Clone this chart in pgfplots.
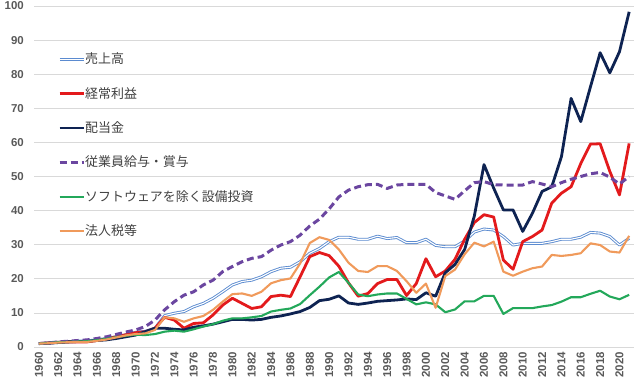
\documentclass[border=0pt]{standalone}
\usepackage{pgfplots}
\usepackage{pgfplotstable}
\pgfplotsset{compat=1.18}
\usepackage{fontspec}
\setmainfont{Liberation Sans}
\newfontfamily\jp{Noto Sans CJK JP}
\definecolor{salesc}{HTML}{5B8BD0}
\definecolor{redc}{HTML}{E31A1C}
\definecolor{navyc}{HTML}{0E2352}
\definecolor{purpc}{HTML}{6B46A0}
\definecolor{greenc}{HTML}{23A85A}
\definecolor{orangec}{HTML}{F09A5B}
\definecolor{gridc}{HTML}{D9D9D9}
\definecolor{tickc}{HTML}{595959}
\definecolor{legc}{HTML}{404040}
\pgfplotstableread{
year S R N P G O
1960 1.0 1.0 1.0 1.0 1.0 1.0
1961 1.2 1.2 1.1 1.2 1.2 1.1
1962 1.4 1.4 1.3 1.5 1.4 1.3
1963 1.5 1.5 1.5 1.7 1.5 1.4
1964 1.7 1.5 1.6 1.9 1.6 1.5
1965 1.8 1.5 1.7 2.1 1.7 1.5
1966 2.1 1.9 1.9 2.5 2.0 1.8
1967 2.5 2.4 2.1 3.0 2.4 2.2
1968 3.0 3.0 2.5 3.7 2.9 2.8
1969 3.6 3.6 3.0 4.4 3.3 3.4
1970 4.3 4.2 3.5 5.0 3.6 3.8
1971 4.6 4.5 4.5 6.0 3.5 4.0
1972 5.5 5.5 5.5 7.9 3.8 5.0
1973 9.2 8.7 5.5 10.9 4.5 8.7
1974 9.9 7.9 5.2 13.3 4.8 8.4
1975 10.4 5.5 5.0 15.2 4.5 7.4
1976 11.8 6.9 5.8 16.2 5.2 8.4
1977 12.8 7.1 6.2 18.2 6.0 9.1
1978 14.3 9.4 6.7 19.6 6.7 10.9
1979 16.2 12.3 7.4 22.1 7.7 13.3
1980 18.2 14.3 8.1 23.6 8.4 15.5
1981 19.2 12.8 8.1 25.0 8.4 15.7
1982 19.6 11.3 7.9 26.0 8.7 15.0
1983 20.6 11.8 8.1 26.5 9.1 16.2
1984 22.1 14.8 8.7 28.4 10.4 18.7
1985 23.1 15.2 9.1 29.9 10.9 19.6
1986 23.4 14.8 9.7 30.9 11.3 20.1
1987 25.0 20.6 10.4 32.8 12.6 24.5
1988 27.5 26.5 11.6 35.5 15.2 30.5
1989 28.9 27.7 13.6 37.5 17.7 32.2
1990 30.9 26.8 14.0 40.5 20.4 31.4
1991 32.2 23.7 15.0 44.0 22.0 28.6
1992 32.2 18.8 12.9 46.0 18.8 24.7
1993 31.6 14.9 12.5 47.0 15.4 22.3
1994 31.6 15.7 12.9 47.6 14.9 22.0
1995 32.5 18.6 13.4 47.7 15.4 23.7
1996 31.8 19.8 13.6 46.5 15.7 23.7
1997 32.1 19.8 13.8 47.5 15.7 22.3
1998 30.6 15.1 14.1 47.7 14.1 19.3
1999 30.6 18.6 13.9 47.7 12.5 15.9
2000 31.6 25.9 15.9 47.7 13.1 18.6
2001 29.8 20.6 14.9 45.3 12.5 11.5
2002 29.4 22.3 21.8 44.3 10.2 20.8
2003 29.4 25.7 24.2 43.3 11.0 22.7
2004 31.1 31.6 28.6 45.8 13.4 27.2
2005 33.7 36.5 38.4 48.2 13.4 30.6
2006 34.6 38.8 53.5 48.5 15.0 29.5
2007 34.3 38.1 46.6 47.6 15.0 30.9
2008 32.4 25.5 40.2 47.5 9.7 22.1
2009 29.9 22.8 40.2 47.5 11.4 20.9
2010 30.4 30.9 33.9 47.5 11.4 22.1
2011 30.4 32.4 39.2 48.5 11.4 23.1
2012 30.4 34.3 45.6 47.8 11.9 23.6
2013 30.9 42.2 47.0 47.0 12.3 27.0
2014 31.6 45.1 55.8 48.2 13.3 26.7
2015 31.6 47.0 72.9 49.2 14.6 27.0
2016 32.2 53.8 66.1 50.0 14.6 27.5
2017 33.6 59.5 76.3 50.8 15.6 30.4
2018 33.4 59.6 86.3 51.2 16.5 29.9
2019 32.4 51.5 80.4 49.8 14.8 28.0
2020 29.9 44.6 86.6 47.8 14.0 27.7
2021 31.9 59.7 98.3 50.0 15.3 32.6
}\data
\begin{document}
\begin{tikzpicture}
\begin{axis}[
  scale only axis, width=600bp, height=341bp,
  xmin=1959.5, xmax=2021.5, ymin=0, ymax=100,
  xtick={1960,1962,...,2020}, ytick={0,10,...,100},
  axis line style={draw=none},
  major tick length=0pt,
  ymajorgrids, grid style={draw=gridc, line width=0.8bp},
  /pgf/number format/assume math mode=true,
  tick label style={font=\fontsize{11.5}{12}\selectfont\bfseries, text=tickc},
  x tick label style={rotate=90, anchor=east, inner sep=5bp, /pgf/number format/1000 sep={}},
  y tick label style={anchor=east, inner sep=0pt, xshift=-10bp},
  legend style={draw=none, fill=none, at={(axis description cs:0.04,0.862)}, anchor=north west,
    inner sep=0pt, row sep=21.4bp, font=\jp\fontsize{13}{15}\selectfont, text=legc,
    nodes={inner sep=0pt, text height=10.5bp, text depth=2.5bp, anchor=base west},
    /tikz/every even column/.append style={column sep=3bp}},
  legend cell align=left,
  legend image code/.code={\draw[#1] (0bp,4.5bp) -- (24bp,4.5bp);},
  every axis plot/.append style={line join=round},
]
\addplot[draw=salesc, line width=0.9bp, double=white, double distance=1.1bp] table[x=year,y=S]{\data};
\addlegendentry{売上高}
\addplot[draw=redc, line width=2.8bp] table[x=year,y=R]{\data};
\addlegendentry{経常利益}
\addplot[draw=navyc, line width=2.8bp] table[x=year,y=N]{\data};
\addlegendentry{配当金}
\addplot[draw=purpc, line width=3bp, dash pattern=on 7bp off 4bp] table[x=year,y=P]{\data};
\addlegendentry{従業員給与・賞与}
\addplot[draw=greenc, line width=2.1bp] table[x=year,y=G]{\data};
\addlegendentry{ソフトウェアを除く設備投資}
\addplot[draw=orangec, line width=2.1bp] table[x=year,y=O]{\data};
\addlegendentry{法人税等}
\end{axis}
\path ([shift={(-34bp,-38bp)}]current axis.south west) rectangle ([shift={(6bp,6bp)}]current axis.north east);
\end{tikzpicture}
\end{document}
